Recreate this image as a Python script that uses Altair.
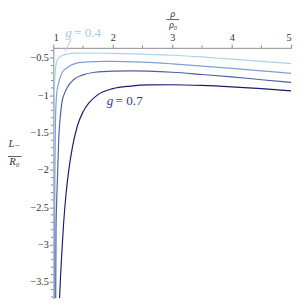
import altair as alt
import pandas as pd

# ---- data ----
x_g04 = [1.006, 1.008, 1.012, 1.018, 1.03, 1.06, 1.1, 1.15, 1.25, 1.4, 1.6, 2.0, 2.5, 3.0, 3.5, 4.0, 4.5, 5.0]
y_g04 = [-3.72, -2.5, -1.5, -0.95, -0.7, -0.54, -0.49, -0.465, -0.445, -0.435, -0.432, -0.437, -0.448, -0.462, -0.485, -0.515, -0.545, -0.574]

x_g05 = [1.02, 1.023, 1.028, 1.035, 1.05, 1.07, 1.09, 1.145, 1.23, 1.39, 1.6, 1.83, 2.0, 2.5, 3.0, 3.5, 4.0, 4.5, 5.0]
y_g05 = [-3.72, -2.6, -1.9, -1.4, -1.04, -0.9, -0.83, -0.70, -0.63, -0.567, -0.55, -0.545, -0.545, -0.555, -0.578, -0.607, -0.638, -0.672, -0.705]

x_g06 = [1.04, 1.045, 1.055, 1.07, 1.09, 1.11, 1.145, 1.19, 1.23, 1.34, 1.5, 1.7, 2.0, 2.3, 2.6, 3.0, 3.5, 4.0, 4.5, 5.0]
y_g06 = [-3.72, -2.83, -2.45, -2.1, -1.6, -1.35, -1.09, -0.97, -0.90, -0.79, -0.725, -0.69, -0.675, -0.672, -0.676, -0.69, -0.72, -0.752, -0.79, -0.826]

x_g07 = [1.105, 1.12, 1.14, 1.17, 1.21, 1.26, 1.32, 1.40, 1.5, 1.6, 1.75, 2.0, 2.3, 2.6, 3.0, 3.5, 4.0, 4.5, 5.0]
y_g07 = [-3.72, -3.45, -3.15, -2.75, -2.35, -2.0, -1.7, -1.42, -1.22, -1.1, -0.99, -0.91, -0.875, -0.86, -0.857, -0.866, -0.885, -0.91, -0.94]

series_names = ["g = 0.4", "g = 0.5", "g = 0.6", "g = 0.7"]
series_colors = ["#a8d4e8", "#7f9fd2", "#4d5da9", "#1c1c6c"]

x_ticks = [1, 2, 3, 4, 5]
x_minor = [1.5, 2.5, 3.5, 4.5]
y_ticks = [-0.5, -1.0, -1.5, -2.0, -2.5, -3.0, -3.5]
y_minor = [-0.4, -0.6, -0.7, -0.8, -0.9, -1.1, -1.2, -1.3, -1.4, -1.6, -1.7, -1.8, -1.9,
           -2.1, -2.2, -2.3, -2.4, -2.6, -2.7, -2.8, -2.9, -3.1, -3.2, -3.3, -3.4, -3.6, -3.7]

x_domain = [1, 5]
y_domain = [-3.718, -0.363]

# ---- build table ----
rows = []
for name, xs_, ys_ in zip(series_names, [x_g04, x_g05, x_g06, x_g07], [y_g04, y_g05, y_g06, y_g07]):
    for xv, yv in zip(xs_, ys_):
        rows.append({"series": name, "x": xv, "y": yv})
df = pd.DataFrame(rows)

axis_col = "#8a8a8a"
serif = "'Liberation Serif', 'DejaVu Serif', serif"

xs = alt.Scale(domain=x_domain, nice=False, zero=False)
ys = alt.Scale(domain=y_domain, nice=False, zero=False)
x_axis = alt.Axis(orient="top", values=x_ticks, title=None, format="d", tickSize=4, labelPadding=1, grid=False,
                  labelFont=serif, labelFontSize=10.5, labelColor="#333", domainColor=axis_col, tickColor=axis_col)
y_axis = alt.Axis(orient="left", values=y_ticks, title=None, format="~g", tickSize=4, labelPadding=1, grid=False,
                  labelFont=serif, labelFontSize=10.5, labelColor="#333", domainColor=axis_col, tickColor=axis_col)

lines = alt.Chart(df).mark_line(clip=True, strokeWidth=1.2, interpolate="monotone").encode(
    x=alt.X("x:Q", scale=xs, axis=x_axis),
    y=alt.Y("y:Q", scale=ys, axis=y_axis),
    color=alt.Color("series:N", scale=alt.Scale(domain=series_names, range=series_colors), legend=None),
)

ymin = alt.Chart(pd.DataFrame({"y": y_minor})).mark_rule(color=axis_col, strokeWidth=1).encode(
    y=alt.Y("y:Q", scale=ys, axis=y_axis), x=alt.value(-2.5), x2=alt.value(0)
)
xmin = alt.Chart(pd.DataFrame({"x": x_minor})).mark_rule(color=axis_col, strokeWidth=1).encode(
    x=alt.X("x:Q", scale=xs, axis=x_axis), y=alt.value(-2.5), y2=alt.value(0)
)

# series labels
lab = pd.DataFrame({"x": [1.2, 1.9], "y": [-0.17, -1.07], "c": ["#a6cbe2", "#3e3e8e"], "t": ["= 0.4", "= 0.7"]})
g_txt = alt.Chart(lab).mark_text(font=serif, fontSize=13.5, fontStyle="italic", align="left", baseline="middle").encode(
    x=alt.X("x:Q", scale=xs, axis=x_axis), y=alt.Y("y:Q", scale=ys, axis=y_axis),
    color=alt.Color("c:N", scale=None), text=alt.value("g")
)
v_txt = alt.Chart(lab).mark_text(font=serif, fontSize=13.5, align="left", baseline="middle", dx=9).encode(
    x=alt.X("x:Q", scale=xs, axis=x_axis), y=alt.Y("y:Q", scale=ys, axis=y_axis),
    color=alt.Color("c:N", scale=None), text="t:N"
)
lead = alt.Chart(pd.DataFrame({"x": [1.30], "x2": [1.20], "y": [-0.25], "y2": [-0.405]})).mark_rule(
    color="#a6cbe2", strokeWidth=1).encode(
    x=alt.X("x:Q", scale=xs, axis=x_axis), x2="x2:Q", y=alt.Y("y:Q", scale=ys, axis=y_axis), y2="y2:Q"
)

# axis titles as fractions
def txt(t, px, py, size=10, style="italic"):
    return alt.Chart(pd.DataFrame({"t": [t]})).mark_text(
        font=serif, fontSize=size, fontStyle=style, color="#333", baseline="middle", align="center"
    ).encode(text="t:N", x=alt.value(px), y=alt.value(py))

def bar(px1, px2, py):
    return alt.Chart(pd.DataFrame({"t": [0]})).mark_rule(color="#333", strokeWidth=0.8).encode(
        x=alt.value(px1), x2=alt.value(px2), y=alt.value(py)
    )

titles = [
    txt("ρ", 122.5, -34.5), bar(116, 129, -29), txt("ρ₀", 123, -23.5),
    txt("L₋", -40, 99, size=11), bar(-47.5, -32.5, 111.5), txt("R₀", -40, 117.5, size=11),
]

chart = alt.layer(lines, ymin, xmin, lead, g_txt, v_txt, *titles).properties(
    width=244, height=257,
    autosize=alt.AutoSizeParams(type="none"),
    padding={"left": 46.5, "top": 37, "right": 6, "bottom": 4},
).configure_view(stroke=None)

chart.save("out.html", embed_options={"renderer": "svg", "actions": False})
